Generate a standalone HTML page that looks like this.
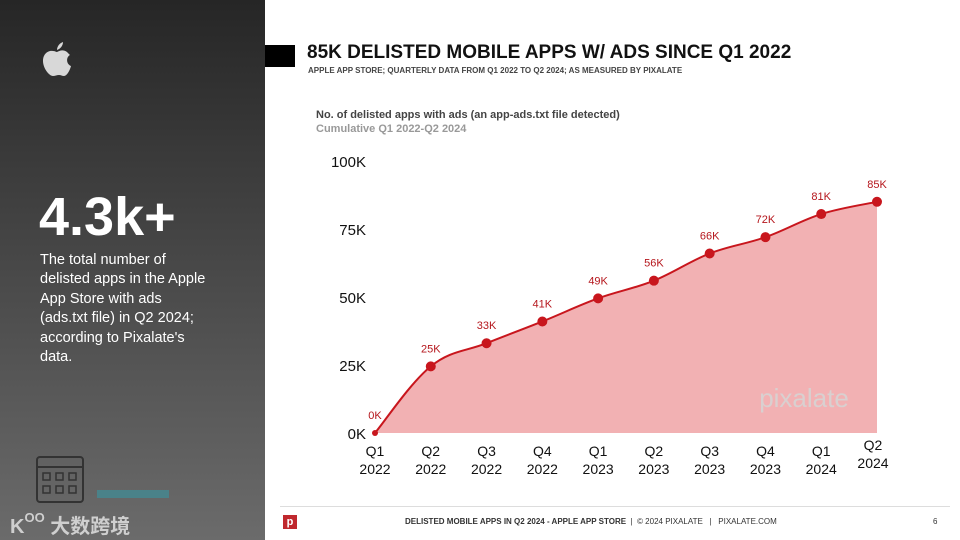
<!DOCTYPE html>
<html><head><meta charset="utf-8"><style>
body{margin:0;width:960px;height:540px;overflow:hidden;background:#fff;font-family:"Liberation Sans","Noto Sans CJK SC",sans-serif;position:relative}
.abs{position:absolute}
</style></head><body>
<div class="abs" style="left:0;top:0;width:265px;height:540px;background:linear-gradient(#262626,#6b6b6b)"></div>
<svg class="abs" style="left:40px;top:40px" width="34" height="42" viewBox="0 0 34 42"><path d="M17 12c2-1 6-3 10 0 2 2 3 3 3 3-4 2-4 9 1 11-1 4-4 10-7 10-2 0-3-1-5-1s-4 1-6 1C9 36 3 28 3 21 3 13 9 10 13 11c2 0 3 1 4 1z" fill="#d8d8d8"/><path d="M17 10c0-4 3-7 6-8 0 4-3 7-6 8z" fill="#d8d8d8"/></svg>
<div class="abs" style="left:39px;top:186px;color:#fff;font-size:54px;font-weight:bold">4.3k+</div>
<div class="abs" style="left:40px;top:251px;white-space:nowrap;color:#fff;font-size:14.5px;line-height:19.4px">The total number of<br>delisted apps in the Apple<br>App Store with ads<br>(ads.txt file) in Q2 2024;<br>according to Pixalate's<br>data.</div>
<svg class="abs" style="left:36px;top:456px" width="48" height="48"><rect x="1" y="1" width="46" height="45" rx="3" fill="none" stroke="#333" stroke-width="2"/><line x1="1" y1="11" x2="47" y2="11" stroke="#333" stroke-width="2"/><g fill="none" stroke="#333" stroke-width="1.5"><rect x="7" y="17" width="7" height="7"/><rect x="20" y="17" width="7" height="7"/><rect x="33" y="17" width="7" height="7"/><rect x="7" y="30" width="7" height="7"/><rect x="20" y="30" width="7" height="7"/><rect x="33" y="30" width="7" height="7"/></g></svg>
<div class="abs" style="left:97px;top:490px;width:72px;height:8px;background:#3f8f99;opacity:.7"></div>
<div class="abs" style="left:10px;top:510px;color:#cfcfcf;font-size:20px;font-weight:bold">K<span style="font-size:13px;vertical-align:top">OO</span> 大数跨境</div>

<div class="abs" style="left:265px;top:45px;width:30px;height:22px;background:#000"></div>
<div class="abs" style="left:307px;top:42px;font-size:19px;font-weight:bold;color:#111">85K DELISTED MOBILE APPS W/ ADS SINCE Q1 2022</div>
<div class="abs" style="left:308px;top:66px;font-size:8px;font-weight:bold;color:#444">APPLE APP STORE; QUARTERLY DATA FROM Q1 2022 TO Q2 2024; AS MEASURED BY PIXALATE</div>
<div class="abs" style="left:316px;top:109px;font-size:11px;font-weight:bold;color:#444">No. of delisted apps with ads (an app-ads.txt file detected)</div>
<div class="abs" style="left:316px;top:123px;font-size:11px;font-weight:bold;color:#999">Cumulative Q1 2022-Q2 2024</div>

<svg class="abs" id="chart" style="left:0;top:0" width="960" height="540"></svg>

<div class="abs" style="left:280px;top:506px;width:670px;height:1px;background:#ddd"></div>
<div class="abs" style="left:283px;top:515px;width:14px;height:14px;background:#c0282e;color:#fff;font-size:11px;font-weight:bold;text-align:center;line-height:14px">p</div>
<div class="abs" style="left:405px;top:517px;font-size:8px;color:#333"><b>DELISTED MOBILE APPS IN Q2 2024 - APPLE APP STORE</b> &nbsp;|&nbsp; © 2024 PIXALATE &nbsp; | &nbsp; PIXALATE.COM</div>
<div class="abs" style="left:933px;top:517px;font-size:8px;color:#333">6</div>

<script>
const categories=["Q1 2022","Q2 2022","Q3 2022","Q4 2022","Q1 2023","Q2 2023","Q3 2023","Q4 2023","Q1 2024","Q2 2024"];
const values=[0,24.5,33,41,49.5,56,66,72,80.5,85];
const valueLabels=["0K","25K","33K","41K","49K","56K","66K","72K","81K","85K"];
const yTicks=[0,25,50,75,100];
const svg=document.getElementById('chart');
const NS="http://www.w3.org/2000/svg";
const x0=375,x1=877,yB=433,yT=161;
const xs=i=>x0+i*(x1-x0)/(categories.length-1);
const ys=v=>yB-(v/100)*(yB-yT);
function mk(t,a){const e=document.createElementNS(NS,t);for(const k in a)e.setAttribute(k,a[k]);svg.appendChild(e);return e;}
const pts=values.map((v,i)=>[xs(i),ys(v)]);
let d="M"+pts[0][0]+","+pts[0][1];
for(let i=0;i<pts.length-1;i++){const p0=pts[i-1]||pts[i],p1=pts[i],p2=pts[i+1],p3=pts[i+2]||p2;const t=0.18;
d+=` C${p1[0]+(p2[0]-p0[0])*t},${p1[1]+(p2[1]-p0[1])*t} ${p2[0]-(p3[0]-p1[0])*t},${p2[1]-(p3[1]-p1[1])*t} ${p2[0]},${p2[1]}`;}
const area=mk('path',{d:d+` L${x1},${yB} L${x0},${yB} Z`,fill:'#f2b1b3'});


const wm=mk('text',{x:804,y:407,'text-anchor':'middle','font-size':26,fill:'#d9d0d0','font-family':'Liberation Sans, sans-serif'});
wm.textContent='pixalate';


const line=mk('path',{d:d,fill:'none',stroke:'#c8161d','stroke-width':2});


values.forEach((v,i)=>{
 const c=mk('circle',{cx:xs(i),cy:ys(v),r:i==0?3:5,fill:'#c8161d'});
 
 
 const t=mk('text',{x:xs(i),y:ys(v)-14,'text-anchor':'middle','font-size':11,fill:'#b5161c'});
 t.textContent=valueLabels[i];
 
 
 const parts=categories[i].split(' ');
 parts.forEach((p,j)=>{const l=mk('text',{x:xs(i)+(i==9?-4:0),y:456+j*18+(i==9?-6:0),'text-anchor':'middle','font-size':14,fill:'#111'});l.textContent=p;
 
 });
});
yTicks.forEach(v=>{const t=mk('text',{x:366,y:ys(v)+6,'text-anchor':'end','font-size':15,fill:'#111'});t.textContent=v+'K';

});
</script>
</body></html>
